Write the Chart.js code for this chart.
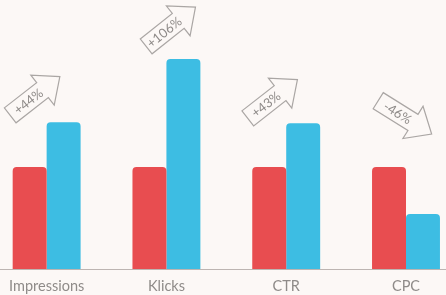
<!DOCTYPE html>
<html>
<head>
<meta charset="utf-8">
<script src="https://cdn.jsdelivr.net/npm/chart.js@4"></script>
<style>
  html, body { margin: 0; padding: 0; background: #fcf8f6; }
  #wrap { width: 446px; height: 295px; }
</style>
</head>
<body>
<div id="wrap"><canvas id="chart"></canvas></div>
<script>
// data (before = 100)
const categories = ['Impressions', 'Klicks', 'CTR', 'CPC'];
const before = [100, 100, 100, 100];
const after = [144, 206, 143, 54];
const changeLabels = ['+44%', '+106%', '+43%', '-46%'];

// arrow annotations: offset from category centre / highest bar top, angle in degrees
const arrowPlacement = [
  { dx: -12, dy: -26, angle: -38 },
  { dx: 4, dy: -32, angle: -38.5 },
  { dx: -14, dy: -24, angle: -38 },
  { dx: -1.5, dy: -50, angle: 32 }
];

// baseline across the whole width
const baselinePlugin = {
  id: 'baseline',
  beforeDatasetsDraw(chart) {
    const ctx = chart.ctx;
    const y = Math.round(chart.scales.y.getPixelForValue(0)) + 0.5;
    ctx.save();
    ctx.strokeStyle = '#bdb5b2';
    ctx.lineWidth = 1;
    ctx.beginPath();
    ctx.moveTo(0, y);
    ctx.lineTo(chart.width, y);
    ctx.stroke();
    ctx.restore();
  }
};

const arrowPlugin = {
  id: 'changeArrows',
  afterDatasetsDraw(chart) {
    const ctx = chart.ctx;
    const m0 = chart.getDatasetMeta(0).data;
    const m1 = chart.getDatasetMeta(1).data;
    changeLabels.forEach((txt, i) => {
      const p = arrowPlacement[i];
      const cx = chart.scales.x.getPixelForValue(i) + p.dx;
      const top = Math.min(m0[i].y, m1[i].y);
      const cy = top + p.dy;
      const s = 9.5, h = 19, tail = -31, tip = 32, base = 10;
      ctx.save();
      ctx.translate(cx, cy);
      ctx.rotate(p.angle * Math.PI / 180);
      ctx.beginPath();
      ctx.moveTo(tail, -s);
      ctx.lineTo(base, -s);
      ctx.lineTo(base, -h);
      ctx.lineTo(tip, 0);
      ctx.lineTo(base, h);
      ctx.lineTo(base, s);
      ctx.lineTo(tail, s);
      ctx.closePath();
      ctx.strokeStyle = '#aaa6a4';
      ctx.lineWidth = 1.2;
      ctx.stroke();
      ctx.fillStyle = '#8e8a88';
      ctx.font = '13px Lato';
      ctx.textAlign = 'center';
      ctx.textBaseline = 'middle';
      ctx.fillText(txt, -8, 0.5);
      ctx.restore();
    });
  }
};

new Chart(document.getElementById('chart'), {
  type: 'bar',
  data: {
    labels: categories,
    datasets: [
      { data: before, backgroundColor: '#e84d50' },
      { data: after, backgroundColor: '#3dbde3' }
    ]
  },
  options: {
    responsive: true,
    maintainAspectRatio: false,
    animation: false,
    layout: { padding: { left: 46, right: 40, top: 0, bottom: 0 } },
    datasets: {
      bar: {
        barPercentage: 1,
        categoryPercentage: 0.567,
        borderRadius: { topLeft: 4, topRight: 4 },
        borderSkipped: 'bottom',
        clip: false
      }
    },
    plugins: {
      legend: { display: false },
      tooltip: { enabled: false }
    },
    scales: {
      x: {
        offset: false,
        grid: { display: false, drawTicks: false },
        border: { display: false },
        ticks: { color: '#8f8b89', font: { family: 'Lato', size: 14.5 }, padding: 9 },
        afterFit(scale) { scale.height = 26; }
      },
      y: {
        display: false,
        min: 0,
        max: 264
      }
    }
  },
  plugins: [baselinePlugin, arrowPlugin]
});
</script>
</body>
</html>
